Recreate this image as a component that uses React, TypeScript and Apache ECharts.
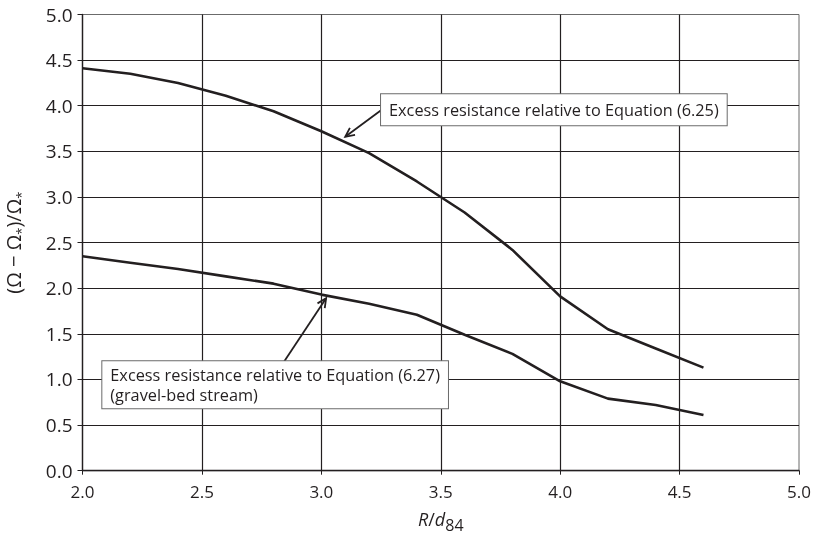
import React, { useEffect, useRef } from "react";
import * as echarts from "echarts";

const xValues = [2.0, 2.2, 2.4, 2.6, 2.8, 3.0, 3.2, 3.4, 3.6, 3.8, 4.0, 4.2, 4.4, 4.6];
const upperCurve = [4.41, 4.35, 4.25, 4.11, 3.94, 3.72, 3.48, 3.17, 2.83, 2.42, 1.91, 1.55, 1.34, 1.13];
const lowerCurve = [2.35, 2.28, 2.21, 2.13, 2.05, 1.93, 1.83, 1.71, 1.49, 1.28, 0.98, 0.79, 0.72, 0.61];
const upperLabel = "Excess resistance relative to Equation (6.25)";
const lowerLabel = ["Excess resistance relative to Equation (6.27)", "(gravel-bed stream)"];
// annotation anchors in data coordinates
const upperArrowTip = [3.1, 3.66];
const upperBoxCorner = [3.25, 4.125];
const lowerArrowTip = [3.02, 1.89];
const lowerBoxCorner = [2.083, 1.2];

const FONT = "Open Sans";
const INK = "#231f20";

export default function App() {
  const ref = useRef<HTMLDivElement>(null);
  useEffect(() => {
    if (!ref.current) return;
    const chart = echarts.init(ref.current, null, { renderer: "svg" });
    chart.setOption({
      animation: false,
      grid: {
        left: 82.5,
        right: 17,
        top: 14.5,
        bottom: 73.3,
        show: true,
        borderColor: "#6b6b6b",
        borderWidth: 1,
        containLabel: false,
        outerBoundsMode: "none",
      },
      xAxis: {
        type: "value",
        min: 2,
        max: 5,
        interval: 0.5,
        name: "{i|R}/{i|d}{sub|84}",
        nameLocation: "middle",
        nameGap: 34,
        nameTextStyle: {
          fontFamily: FONT,
          fontSize: 18,
          color: INK,
          rich: {
            i: { fontFamily: FONT, fontSize: 18, fontStyle: "italic", color: INK },
            sub: { fontFamily: FONT, fontSize: 16, color: INK, padding: [12, 0, 0, 0] },
          },
        },
        axisLine: { show: true, onZero: false, lineStyle: { color: INK, width: 1.3 } },
        axisTick: { show: true, length: 4, lineStyle: { color: INK } },
        axisLabel: {
          fontFamily: FONT,
          fontSize: 17,
          color: INK,
          margin: 12,
          formatter: (v: number) => v.toFixed(1),
        },
        splitLine: { show: true, showMaxLine: false, lineStyle: { color: INK, width: 1.2 } },
      },
      yAxis: {
        type: "value",
        min: 0,
        max: 5,
        interval: 0.5,
        name: "(Ω − Ω{s|*})/Ω{s|*}",
        nameLocation: "middle",
        nameGap: 55,
        nameRotate: 90,
        nameTextStyle: {
          fontFamily: FONT,
          fontSize: 20,
          color: INK,
          rich: {
            s: { fontFamily: FONT, fontSize: 13, color: INK, padding: [15, 0, 0, 0] },
          },
        },
        axisLine: { show: true, onZero: false, lineStyle: { color: INK, width: 1.3 } },
        axisTick: { show: true, length: 5, lineStyle: { color: INK } },
        axisLabel: {
          fontFamily: FONT,
          fontSize: 19,
          color: INK,
          margin: 10,
          formatter: (v: number) => v.toFixed(1),
        },
        splitLine: { show: true, showMaxLine: false, lineStyle: { color: INK, width: 1.2 } },
      },
      series: [
        {
          type: "line",
          data: xValues.map((x, i) => [x, upperCurve[i]]),
          showSymbol: false,
          lineStyle: { color: INK, width: 2.6 },
          z: 3,
        },
        {
          type: "line",
          data: xValues.map((x, i) => [x, lowerCurve[i]]),
          showSymbol: false,
          lineStyle: { color: INK, width: 2.6 },
          z: 3,
        },
      ],
    });

    const px = (p: number[]) => chart.convertToPixel({ gridIndex: 0 }, p) as number[];
    const arrow = (from: number[], to: number[]) => {
      const ang = Math.atan2(to[1] - from[1], to[0] - from[0]);
      const L = 10;
      const spread = 0.45;
      const a1 = [to[0] - L * Math.cos(ang - spread), to[1] - L * Math.sin(ang - spread)];
      const a2 = [to[0] - L * Math.cos(ang + spread), to[1] - L * Math.sin(ang + spread)];
      return [
        { type: "line", shape: { x1: from[0], y1: from[1], x2: to[0], y2: to[1] }, style: { stroke: INK, lineWidth: 1.8 }, z: 10 },
        { type: "polyline", shape: { points: [a1, to, a2] }, style: { stroke: INK, lineWidth: 1.8, fill: null }, z: 10 },
      ];
    };
    const uBox = px(upperBoxCorner);
    const uTip = px(upperArrowTip);
    const lBox = px(lowerBoxCorner);
    const lTip = px(lowerArrowTip);
    const boxStyle = {
      fontFamily: FONT,
      fontSize: 16.3,
      fill: INK,
      backgroundColor: "#ffffff",
      borderColor: "#6b6b6b",
      borderWidth: 1,
      lineHeight: 20,
    };
    chart.setOption({
      graphic: [
        ...arrow([uBox[0], uBox[1] + 16], uTip),
        { type: "text", x: uBox[0], y: uBox[1], style: { ...boxStyle, padding: [6, 8, 5, 8], text: upperLabel }, z: 11 },
        ...arrow([lBox[0] + 182, lBox[1]], lTip),
        { type: "text", x: lBox[0], y: lBox[1], style: { ...boxStyle, padding: [4, 8, 3, 8], text: lowerLabel.join("\n") }, z: 11 },
      ],
    });
    return () => chart.dispose();
  }, []);
  return <div ref={ref} style={{ position: "fixed", left: 0, top: 0, width: 816, height: 544 }} />;
}
